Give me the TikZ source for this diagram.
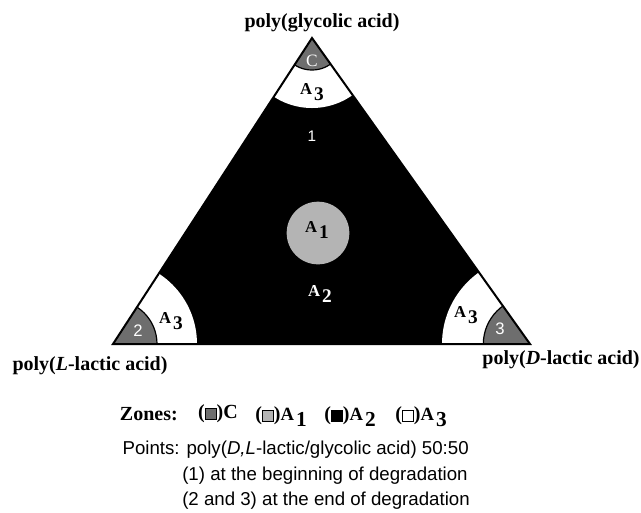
\documentclass[tikz,border=0pt]{standalone}
\usepackage{fontspec}
\setmainfont{Liberation Serif}
\setsansfont{Liberation Sans}
\definecolor{cgray}{HTML}{6E6E6E}
\definecolor{agray}{HTML}{B4B4B4}
\newcommand{\Asub}[1]{\textbf{\fontsize{12.5}{14}\selectfont A}\hspace{1.5pt}\raisebox{-4.5pt}{\textbf{\fontsize{14.5}{16}\selectfont #1}}}
\newcommand{\Asubz}[1]{\textbf{\fontsize{14}{15}\selectfont A}\hspace{1.5pt}\raisebox{-4.5pt}{\textbf{\fontsize{16}{17}\selectfont #1}}}
\newcommand{\zsq}[1]{{\setlength{\fboxsep}{0pt}\setlength{\fboxrule}{0.7pt}\fcolorbox{black}{#1}{\hspace{7.5pt}\rule{0pt}{7.5pt}}}}
\begin{document}
\begin{tikzpicture}[x=0.75pt,y=-0.75pt,
  corner/.style={font=\bfseries\fontsize{15}{17}\selectfont},
  alab/.style={inner sep=0pt},
  num/.style={font=\sffamily\fontsize{12.5}{14}\selectfont,text=white,inner sep=0pt},
  zone/.style={font=\bfseries\fontsize{15}{17}\selectfont,inner sep=0pt},
  info/.style={font=\sffamily\fontsize{14}{16}\selectfont,inner sep=0pt}]
\useasboundingbox (0,0) rectangle (641,512);
\coordinate (L) at (113,344);
\coordinate (R) at (530,344);
\coordinate (T) at (312,38);
\fill[black] (L)--(R)--(T)--cycle;
\begin{scope}
\clip (L)--(R)--(T)--cycle;
\fill[white] (T) circle[radius=52.5pt];
\fill[cgray,draw=black,line width=0.9pt] (T) circle[radius=24pt];
\fill[white] (L) circle[radius=63pt];
\fill[cgray,draw=black,line width=0.9pt] (L) circle[radius=33pt];
\fill[white] (R) circle[radius=66pt];
\fill[cgray,draw=black,line width=0.9pt] (R) circle[radius=35pt];
\end{scope}
\draw[line width=1.5pt,line join=miter] (L)--(R)--(T)--cycle;
\fill[agray] (318,233) circle[radius=23.5pt];
% labels inside
\node[font=\fontsize{13}{14}\selectfont,text=white,inner sep=0pt] (c) at (312,61) {C};
\node[alab] (a3t) at (312,92) {\Asub{3}};
\node[num,font=\sffamily\fontsize{11.5}{13}\selectfont] (p1) at (312,136) {1};
\node[alab] (a1) at (317,230) {\Asub{1}};
\node[alab,text=white] (a2) at (320,294) {\Asub{2}};
\node[alab] (a3l) at (171,321) {\Asub{3}};
\node[num] (p2) at (138,331) {2};
\node[alab] (a3r) at (466,315) {\Asub{3}};
\node[num] (p3) at (500,329) {3};
% corner names
\node[corner] (pga) at (322,23) {poly(glycolic acid)};
\node[corner] (pll) at (90,366) {poly(\textit{L}-lactic acid)};
\node[corner] (pdl) at (561,360) {poly(\textit{D}-lactic acid)};
% legend
\node[zone,anchor=east] (zones) at (178,414) {Zones:};
\node[zone] (zc) at (218,414) {(\zsq{cgray})C};
\node[zone] (za1) at (281,417) {(\zsq{agray})\Asubz{1}};
\node[zone] (za2) at (350,417) {(\zsq{black})\Asubz{2}};
\node[zone] (za3) at (421,417) {(\zsq{white})\Asubz{3}};
\node[info,anchor=east] (pts) at (469,450) {Points: poly(\textit{D,L}-lactic/glycolic acid) 50:50};
\node[info,anchor=west] (b1) at (182,476) {(1) at the beginning of degradation};
\node[info,anchor=west] (b2) at (182,501) {(2 and 3) at the end of degradation};
\end{tikzpicture}
\end{document}
